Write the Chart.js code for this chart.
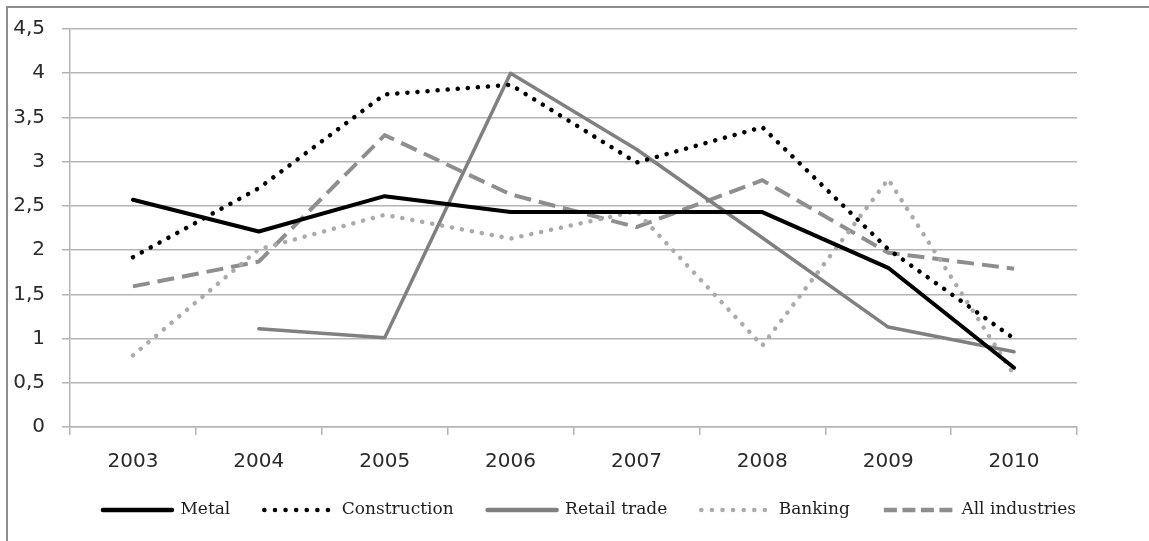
<!DOCTYPE html>
<html>
<head>
<meta charset="utf-8">
<title>Wage growth by industry, 2003–2010</title>
<script src="https://cdn.jsdelivr.net/npm/chart.js@4.4.1/dist/chart.umd.min.js"></script>
<style>
  html, body { margin: 0; padding: 0; background: #ffffff; overflow: hidden; }
  #wrap { position: relative; width: 1149px; height: 541px; }
  #frame {
    position: absolute; left: 6px; top: 6px; width: 1200px; height: 600px;
    border-top: 2px solid #8c8c8c; border-left: 2px solid #8c8c8c;
  }
  canvas { position: absolute; left: 0; top: 0; }
</style>
</head>
<body>
<div id="wrap">
  <div id="frame"></div>
  <canvas id="chart" width="1149" height="541"></canvas>
</div>
<script>
// Years on the horizontal axis
const years = ['2003', '2004', '2005', '2006', '2007', '2008', '2009', '2010'];

// Series values per year
const metal        = [2.57, 2.21, 2.61, 2.43, 2.43, 2.43, 1.80, 0.67];
const construction = [1.92, 2.70, 3.76, 3.87, 2.99, 3.39, 2.01, 1.00];
const retailTrade  = [null, 1.11, 1.01, 4.00, 3.14, 2.14, 1.13, 0.85];
const banking      = [0.81, 2.01, 2.40, 2.13, 2.44, 0.92, 2.80, 0.59];
const allIndustries= [1.59, 1.87, 3.30, 2.63, 2.26, 2.79, 1.97, 1.79];

// Value axis labels (decimal comma)
const yTickLabels = ['0', '0,5', '1', '1,5', '2', '2,5', '3', '3,5', '4', '4,5'];

const tickFont = { family: "'DejaVu Sans', sans-serif", size: 20 };
const legendFont = { family: "'DejaVu Serif', serif", size: 17 };
const gridColor = '#b4b4b4';

// Legend sample strokes (shorter dashes than on the plot)
const legendStroke = {
  'Metal':          { dash: [],          cap: 'round', width: 4.5 },
  'Construction':   { dash: [0.1, 10.5], cap: 'round', width: 4.5 },
  'Retail trade':   { dash: [],          cap: 'round', width: 4.5 },
  'Banking':        { dash: [0.1, 10.5], cap: 'round', width: 4.5 },
  'All industries': { dash: [13, 5.5],   cap: 'butt',  width: 4.5 }
};

// Nudges the bottom legend sideways after layout
const legendShift = {
  id: 'legendShift',
  afterLayout(chart, args, opts) {
    if (chart.legend) {
      chart.legend.left += opts.dx;
      chart.legend.right += opts.dx;
    }
  }
};

new Chart(document.getElementById('chart'), {
  type: 'line',
  data: {
    labels: years,
    datasets: [
      { label: 'Metal', data: metal, borderColor: '#000000', backgroundColor: '#000000',
        borderWidth: 4, borderCapStyle: 'round' },
      { label: 'Construction', data: construction, borderColor: '#000000', backgroundColor: '#000000',
        borderWidth: 4.5, borderDash: [0.1, 10], borderCapStyle: 'round' },
      { label: 'Retail trade', data: retailTrade, borderColor: '#808080', backgroundColor: '#808080',
        borderWidth: 3.5, borderCapStyle: 'round' },
      { label: 'Banking', data: banking, borderColor: '#ababab', backgroundColor: '#ababab',
        borderWidth: 4.5, borderDash: [0.1, 10], borderCapStyle: 'round' },
      { label: 'All industries', data: allIndustries, borderColor: '#8e8e8e', backgroundColor: '#8e8e8e',
        borderWidth: 4, borderDash: [17, 8], borderCapStyle: 'butt' }
    ]
  },
  plugins: [legendShift],
  options: {
    responsive: false,
    animation: false,
    devicePixelRatio: 1,
    layout: { padding: { top: 22.5, left: 0, right: 0, bottom: 12.5 } },
    elements: {
      point: { radius: 0, hoverRadius: 0 },
      line: { tension: 0, borderJoinStyle: 'round' }
    },
    scales: {
      x: {
        offset: true,
        grid: { offset: true, drawOnChartArea: false, drawTicks: true, tickLength: 8,
                color: gridColor, lineWidth: 1.5 },
        border: { display: true, color: gridColor, width: 1.5 },
        ticks: { font: tickFont, color: '#2a2a2a', padding: 15, maxRotation: 0, autoSkip: false },
        afterFit: (s) => { s.height = 40.5; }
      },
      y: {
        min: 0, max: 4.5,
        grid: { drawTicks: true, tickLength: 8, color: gridColor, lineWidth: 1.5 },
        border: { display: true, color: gridColor, width: 1.5 },
        ticks: { stepSize: 0.5, font: tickFont, color: '#2a2a2a', padding: 17,
                 callback: (v, i) => yTickLabels[i] },
        afterFit: (s) => { s.width = 70; }
      },
      yRight: {
        position: 'right',
        display: true,
        grid: { display: false, drawTicks: false },
        border: { display: false },
        ticks: { display: false },
        afterFit: (s) => { s.width = 72; }
      }
    },
    plugins: {
      title: { display: false },
      tooltip: { enabled: false },
      legendShift: { dx: 15 },
      legend: {
        position: 'bottom',
        labels: {
          font: legendFont,
          color: '#1e1e1e',
          usePointStyle: true,
          pointStyle: 'line',
          pointStyleWidth: 69,
          padding: 34,
          generateLabels: (chart) => {
            const items = Chart.defaults.plugins.legend.labels.generateLabels(chart);
            items.forEach((it) => {
              const s = legendStroke[it.text];
              const ds = chart.data.datasets[it.datasetIndex];
              it.pointStyle = 'line';
              it.strokeStyle = ds.borderColor;
              it.fillStyle = ds.borderColor;
              if (s) {
                it.lineDash = s.dash;
                it.lineCap = s.cap;
                it.lineWidth = s.width;
              }
            });
            return items;
          }
        }
      }
    }
  }
});
</script>
</body>
</html>
